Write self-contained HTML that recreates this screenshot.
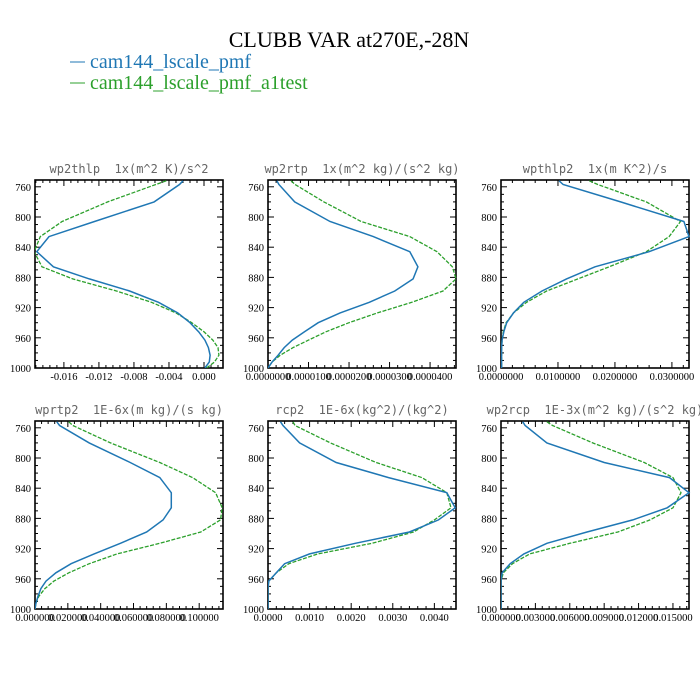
<!DOCTYPE html>
<html><head><meta charset="utf-8"><style>
body{margin:0;background:#fff;}
svg{display:block;font-family:"Liberation Serif",serif;}
.tt{font-family:"DejaVu Sans Mono","Liberation Mono",monospace;font-size:12px;fill:#666;white-space:pre;}
.tk{font-size:10.5px;fill:#000;}
</style></head><body>
<svg id="fig" width="700" height="700" viewBox="0 0 700 700">
<text x="349" y="47" text-anchor="middle" font-size="22">CLUBB VAR at270E,-28N</text>
<g>
<line x1="70" y1="62" x2="85" y2="62" stroke="#1f77b4" stroke-width="1"/>
<text x="90" y="68" font-size="20" fill="#1f77b4">cam144_lscale_pmf</text>
<line x1="70" y1="83" x2="85" y2="83" stroke="#2ca02c" stroke-width="1"/>
<text x="90" y="89" font-size="20" fill="#2ca02c">cam144_lscale_pmf_a1test</text>
</g>
</svg>
<script>
const levels=[752,757,780,806,826,846,866,882,898,913,927,940,952,963,973,983,992,1000];
const titles=["wp2thlp  1x(m^2 K)/s^2","wp2rtp  1x(m^2 kg)/(s^2 kg)","wpthlp2  1x(m K^2)/s","wprtp2  1E-6x(m kg)/(s kg)","rcp2  1E-6x(kg^2)/(kg^2)","wp2rcp  1E-3x(m^2 kg)/(s^2 kg)"];
const seriesA=[
[-0.0024,-0.0028,-0.0057,-0.0125,-0.0177,-0.0191,-0.0172,-0.0131,-0.0085,-0.0052,-0.0030,-0.0016,-0.0006,0.0001,0.0005,0.0007,0.0006,0.0001],
[0.22e-5,0.27e-5,0.66e-5,1.53e-5,2.6e-5,3.5e-5,3.7e-5,3.58e-5,3.13e-5,2.5e-5,1.78e-5,1.24e-5,0.9e-5,0.6e-5,0.4e-5,0.25e-5,0.1e-5,0],
[0.0102,0.0109,0.021,0.0321,0.033,0.026,0.0165,0.0115,0.0072,0.004,0.0022,0.001,0.0005,0.0002,0.0001,0.0001,0.0001,0.0001],
[0.0133,0.015,0.033,0.058,0.076,0.083,0.083,0.078,0.068,0.052,0.036,0.022,0.0127,0.0067,0.0036,0.0018,0.0006,0],
[0.0003,0.00036,0.00076,0.00164,0.0029,0.0043,0.0045,0.0041,0.0034,0.0021,0.0010,0.0004,0.0002,0.00002,0,0,0,0],
[0.0019,0.0021,0.0040,0.0090,0.0147,0.0164,0.0145,0.0115,0.0075,0.0040,0.0020,0.0008,0.0001,0,0,0,0,0]];
const seriesB=[
[-0.0043,-0.0055,-0.0110,-0.0162,-0.0187,-0.0194,-0.0185,-0.0150,-0.0100,-0.0060,-0.0032,-0.0014,0.0000,0.0010,0.0016,0.0017,0.0012,0.0003],
[0.57e-5,0.67e-5,1.38e-5,2.3e-5,3.5e-5,4.17e-5,4.55e-5,4.64e-5,4.32e-5,3.55e-5,2.7e-5,2.0e-5,1.43e-5,1.0e-5,0.62e-5,0.3e-5,0.1e-5,0],
[0.0155,0.017,0.0255,0.0315,0.0295,0.0255,0.019,0.0135,0.008,0.0045,0.0022,0.0009,0.0004,0.0002,0.0001,0.0001,0.0001,0.0001],
[0.0206,0.023,0.046,0.076,0.096,0.110,0.114,0.113,0.101,0.076,0.050,0.033,0.0206,0.0115,0.006,0.0024,0.0006,0],
[0.0006,0.00065,0.0015,0.0026,0.0037,0.0043,0.0044,0.0040,0.0035,0.0025,0.0012,0.0005,0.0002,0.00002,0,0,0,0],
[0.0040,0.0045,0.0080,0.0125,0.0150,0.0157,0.0150,0.0130,0.0102,0.0060,0.0025,0.0010,0.0002,0,0,0,0,0]];
const xMin=[-0.0193,0,0,0,0,0];
const xMax=[0.00217,4.64e-5,0.033,0.1145,0.00452,0.0164];
const xTickStep=[0.004,1e-5,0.01,0.02,0.001,0.003];
const xTickStart=[-0.016,0,0,0,0,0];
const xTickDigits=[3,7,7,6,4,6];
const yTicks=[760,800,840,880,920,960,1000];
const pTop=751,pBot=1000;

const NS="http://www.w3.org/2000/svg";
const svg=document.getElementById('fig');
function mk(t,a,p){const e=document.createElementNS(NS,t);for(const k in a)e.setAttribute(k,a[k]);(p||svg).appendChild(e);return e;}
const boxes=[[35,180],[268,180],[501,180],[35,421],[268,421],[501,421]];
const W=188,H=188;
for(let i=0;i<6;i++){
 const [L,T]=boxes[i];
 const g=mk('g',{});
 
 
 const xs=v=>L+(v-xMin[i])/(xMax[i]-xMin[i])*W;
 const ys=p=>T+(p-pTop)/(pBot-pTop)*H;
 const tt=mk('text',{x:L+W/2,y:T-7,'text-anchor':'middle','class':'tt'},g);
 tt.textContent=titles[i];
 
 
 for(let p=760;p<=1000;p+=10){
  const y=ys(p),maj=(p-760)%40===0,len=maj?6:3;
  mk('line',{x1:L,y1:y,x2:L+len,y2:y,stroke:'#000','stroke-width':1},g);
  mk('line',{x1:L+W,y1:y,x2:L+W-len,y2:y,stroke:'#000','stroke-width':1},g);
 }
 yTicks.forEach(p=>{const t=mk('text',{x:L-4,y:ys(p)+4,'text-anchor':'end','class':'tk'},g);t.textContent=p;
  
  });
 const st=xTickStep[i],mn=st/5;
 for(let k=-50;k<=50;k++){
  const v=xTickStart[i]+k*mn;
  if(v<xMin[i]-1e-12||v>xMax[i]+1e-12)continue;
  const x=xs(v),maj=Math.abs(Math.round(k/5)*5-k)<1e-9,len=maj?6:3;
  mk('line',{x1:x,y1:T+H,x2:x,y2:T+H-len,stroke:'#000','stroke-width':1},g);
  mk('line',{x1:x,y1:T,x2:x,y2:T+len,stroke:'#000','stroke-width':1},g);
  if(maj){const t=mk('text',{x:x,y:T+H+12,'text-anchor':'middle','class':'tk'},g);
   let s=(Math.abs(v)<1e-12?0:v).toFixed(xTickDigits[i]);t.textContent=s;
   
   }
 }
 const fr=mk('rect',{x:L,y:T,width:W,height:H,fill:'none',stroke:'#000','stroke-width':1.6},g);
 
 
 const cp=mk('clipPath',{id:'c'+i},g);mk('rect',{x:L,y:T,width:W+2,height:H},cp);
 const ptsA=levels.map((p,j)=>xs(seriesA[i][j]).toFixed(1)+','+ys(p).toFixed(1)).join(' ');
 const ptsB=levels.map((p,j)=>xs(seriesB[i][j]).toFixed(1)+','+ys(p).toFixed(1)).join(' ');
 const lb=mk('polyline',{points:ptsB,fill:'none',stroke:'#2ca02c','stroke-width':1.3,'stroke-dasharray':'4,1.5','clip-path':'url(#c'+i+')'},g);
 
 
 const la=mk('polyline',{points:ptsA,fill:'none',stroke:'#1f77b4','stroke-width':1.5,'clip-path':'url(#c'+i+')'},g);
 
 
}
</script>
</body></html>
